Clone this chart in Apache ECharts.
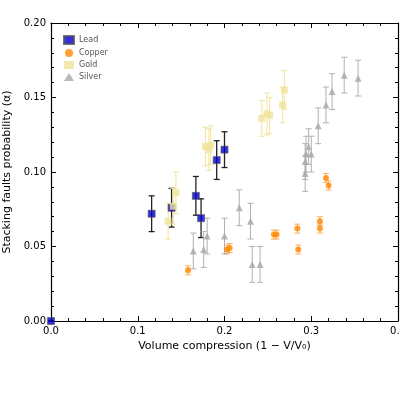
<!DOCTYPE html><html><head><script src="https://cdn.jsdelivr.net/npm/echarts@6/dist/echarts.min.js"></script></head><body style="margin:0"><div id="c" style="width:400px;height:400px"></div><script>
const lead=[[0,0,0],[0.116,0.072,0.012],[0.139,0.076,0.013],[0.167,0.084,0.013],[0.173,0.069,0.013],[0.191,0.108,0.013],[0.2,0.115,0.012]];
const copper=[[0.158,0.034,0.003],[0.203,0.048,0.003],[0.206,0.049,0.003],[0.257,0.058,0.003],[0.260,0.058,0.003],[0.284,0.062,0.003],[0.285,0.048,0.003],[0.31,0.067,0.003],[0.31,0.062,0.003],[0.317,0.096,0.003],[0.320,0.091,0.003]];
const gold=[[0.135,0.067,0.012],[0.141,0.077,0.012],[0.144,0.086,0.014],[0.178,0.117,0.013],[0.182,0.115,0.014],[0.184,0.118,0.013],[0.243,0.136,0.012],[0.249,0.139,0.014],[0.252,0.138,0.012],[0.267,0.145,0.012],[0.269,0.155,0.013]];
const silver=[[0.164,0.047,0.012],[0.176,0.048,0.012],[0.180,0.057,0.012],[0.2,0.057,0.012],[0.217,0.076,0.012],[0.230,0.067,0.012],[0.232,0.038,0.012],[0.241,0.038,0.012],[0.293,0.099,0.012],[0.293,0.107,0.012],[0.294,0.112,0.012],[0.297,0.117,0.012],[0.3,0.112,0.012],[0.308,0.131,0.012],[0.317,0.145,0.012],[0.324,0.154,0.012],[0.338,0.165,0.012],[0.354,0.163,0.012]];
function eb(data,color,w){return {type:'custom',silent:true,z:1,renderItem:(p,api)=>{const x=api.value(0),y=api.value(1),e=api.value(2);const a=api.coord([x,y-e]),b=api.coord([x,y+e]);const st={stroke:color,lineWidth:w};return {type:'group',children:[{type:'line',shape:{x1:a[0],y1:a[1],x2:b[0],y2:b[1]},style:st},{type:'line',shape:{x1:a[0]-3,y1:a[1],x2:a[0]+3,y2:a[1]},style:st},{type:'line',shape:{x1:b[0]-3,y1:b[1],x2:b[0]+3,y2:b[1]},style:st}]};},data:data};}
const tk={inside:true,length:5,lineStyle:{color:'#000'}};
const mtk={show:true,splitNumber:5,length:3,lineStyle:{color:'#000'}};
const font='DejaVu Sans';
function ax(type,extra){return Object.assign({type:'value',axisLine:{show:true,onZero:false,lineStyle:{color:'#000',width:1.2}},axisTick:tk,minorTick:mtk,splitLine:{show:false}},extra);}
const opt={animation:false,textStyle:{fontFamily:font},
grid:{left:51,right:2,top:23,bottom:79,containLabel:false,outerBoundsMode:'none'},
legend:{left:58,top:30,orient:'vertical',itemWidth:10,itemHeight:8,itemGap:4,textStyle:{fontSize:8,fontFamily:font},data:['Lead','Copper','Gold','Silver']},
xAxis:[ax('x',{min:0,max:0.4,interval:0.1,name:'Volume compression (1 − V/V₀)',nameLocation:'middle',nameGap:20,nameTextStyle:{fontSize:11,color:'#000'},axisLabel:{fontSize:10,color:'#000',margin:5,formatter:v=>v===0?'0.0':String(v)}}),ax('x',{min:0,max:0.4,interval:0.1,position:'top',axisLabel:{show:false}})],
yAxis:[ax('y',{min:0,max:0.2,interval:0.05,name:'Stacking faults probability (α)',nameLocation:'middle',nameGap:38,nameTextStyle:{fontSize:11,color:'#000'},axisLabel:{fontSize:10,color:'#000',margin:5,formatter:v=>v.toFixed(2)}}),ax('y',{min:0,max:0.2,interval:0.05,position:'right',axisLabel:{show:false}})],
series:[
eb(lead,'#222',1.3),eb(copper,'#ffae60',1),eb(gold,'#f2e49a',1),eb(silver,'#b0b0b0',1),
{name:'Lead',type:'scatter',symbol:'rect',symbolSize:7,z:3,itemStyle:{color:'#0000cc',borderColor:'#555',borderWidth:0.8},data:lead},
{name:'Copper',type:'scatter',symbol:'circle',symbolSize:6,z:3,itemStyle:{color:'#ff8800'},data:copper},
{name:'Gold',type:'scatter',symbol:'rect',symbolSize:7,z:3,itemStyle:{color:'#f0e39a'},data:gold},
{name:'Silver',type:'scatter',symbol:'triangle',symbolSize:7,z:3,itemStyle:{color:'#a8a8a8'},data:silver}]};
echarts.init(document.getElementById('c')).setOption(opt);
</script></body></html>
